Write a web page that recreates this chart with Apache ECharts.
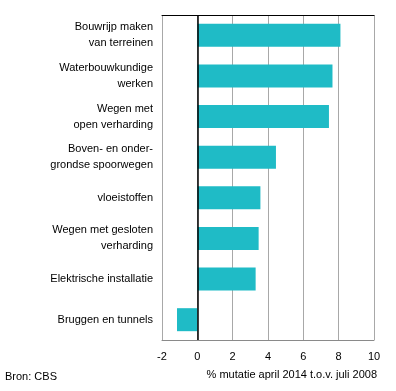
<!DOCTYPE html>
<html><head><meta charset="utf-8">
<script src="https://cdn.jsdelivr.net/npm/echarts@6/dist/echarts.min.js"></script>
<style>html,body{margin:0;padding:0;background:#fff}#c{width:396px;height:391px}</style>
</head><body><div id="c"></div>
<script>
const categories = [
  "Bouwrijp maken\nvan terreinen",
  "Waterbouwkundige\nwerken",
  "Wegen met\nopen verharding",
  "Boven- en onder-\ngrondse spoorwegen",
  "vloeistoffen",
  "Wegen met gesloten\nverharding",
  "Elektrische installatie",
  "Bruggen en tunnels"
];
const values = [8.1, 7.65, 7.45, 4.45, 3.57, 3.47, 3.3, -1.15];
const xTicks = [-2, 0, 2, 4, 6, 8, 10];
const axisTitle = "% mutatie april 2014 t.o.v. juli 2008";
const source = "Bron: CBS";

const font = "'Liberation Sans', Arial, sans-serif";
const chart = echarts.init(document.getElementById('c'));
chart.setOption({
  animation: false,
  grid: {left: 162, right: 22, top: 15, bottom: 51, containLabel: false},
  xAxis: [{
    type: 'value', min: xTicks[0], max: xTicks[xTicks.length-1], interval: 2,
    axisLine: {show: true, lineStyle: {color: '#8a8a8a', width: 1}},
    axisTick: {show: false},
    axisLabel: {color: '#000', fontFamily: font, fontSize: 11, margin: 11},
    splitLine: {show: true, lineStyle: {color: '#a8a8a8', width: 1}}
  }, {
    type: 'value', position: 'top', min: xTicks[0], max: xTicks[xTicks.length-1], interval: 2,
    axisLine: {show: true, onZero: false, lineStyle: {color: '#000', width: 1}},
    axisTick: {show: false}, axisLabel: {show: false}, splitLine: {show: false}
  }],
  yAxis: {
    type: 'category', data: categories, inverse: true,
    axisLine: {show: false, onZero: false}, axisTick: {show: false},
    axisLabel: {color: '#000', fontFamily: font, fontSize: 11, margin: 9, lineHeight: 16, align: 'right'}
  },
  series: [{
    type: 'bar', data: values, barWidth: 23,
    itemStyle: {color: '#1fbbc6'},
    markLine: {
      silent: true, symbol: ['none', 'none'], label: {show: false},
      lineStyle: {color: '#000', width: 1.5, type: 'solid'},
      data: [{xAxis: 0}]
    }
  }],
  graphic: [
    {type: 'text', right: 19, top: 369, style: {text: axisTitle, font: "11px " + font, fill: '#000'}},
    {type: 'text', left: 5, top: 371, style: {text: source, font: "11px " + font, fill: '#000'}}
  ]
});
</script></body></html>
